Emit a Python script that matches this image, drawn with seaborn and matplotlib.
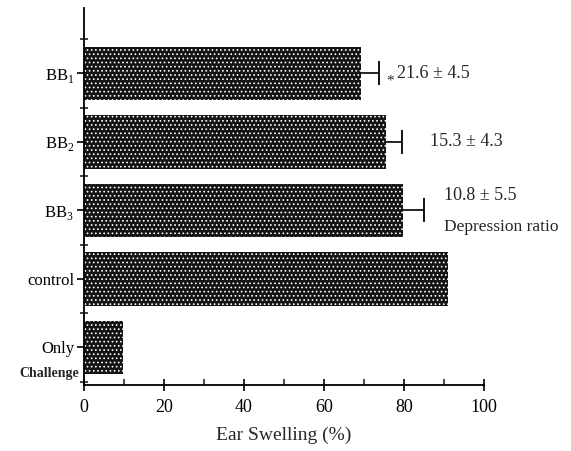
import matplotlib
matplotlib.use("Agg")
import matplotlib.pyplot as plt
import matplotlib.transforms as mtransforms
import seaborn as sns
import pandas as pd

categories = ["BB1", "BB2", "BB3", "control", "Only"]
tick_labels = ["BB$_\\mathregular{1}$", "BB$_\\mathregular{2}$", "BB$_\\mathregular{3}$", "control", "Only"]
swelling = [69.3, 75.5, 79.7, 91.0, 9.7]
err_plus = [4.3, 3.9, 5.3, 0.0, 0.0]
ratio_labels = ["21.6 ± 4.5", "15.3 ± 4.3", "10.8 ± 5.5"]

df = pd.DataFrame({"group": categories, "swelling": swelling})

sns.set_theme(style="ticks")
plt.rcParams["font.family"] = ["Liberation Serif", "DejaVu Serif"]
plt.rcParams["mathtext.fontset"] = "custom"
plt.rcParams["mathtext.rm"] = "Liberation Serif"
plt.rcParams["hatch.color"] = "white"
plt.rcParams["hatch.linewidth"] = 0.7

fig = plt.figure(figsize=(5.71, 4.51), dpi=100)
ax = fig.add_axes([0.147, 0.146, 0.701, 0.836])

sns.barplot(data=df, y="group", x="swelling", orient="h", order=categories,
            color="#111111", width=0.78, errorbar=None, ax=ax,
            edgecolor="white", linewidth=0)
for p in ax.patches:
    p.set_hatch("....")
    p.set_facecolor("#141414")
    p.set_edgecolor("white")
    p.set_linewidth(0)

ypos = list(range(len(categories)))
ends = [swelling[i] + err_plus[i] for i in range(3)]
ax.errorbar(swelling[:3], ypos[:3], xerr=[[0, 0, 0], err_plus[:3]], fmt="none",
            ecolor="black", elinewidth=1.2, capsize=0, zorder=1)
ax.plot(ends, ypos[:3], linestyle="none", marker="|", markersize=17,
        markeredgewidth=1.3, color="black")

ax.set_xlim(0, 100)
ax.set_ylim(4.55, -0.95)
ax.set_xticks([0, 20, 40, 60, 80, 100])
ax.set_xticks([10, 30, 50, 70, 90], minor=True)
ax.set_yticks(ypos)
ax.set_yticklabels(tick_labels)
ax.set_yticks([-0.5, 0.5, 1.5, 2.5, 3.5, 4.5], minor=True)
ax.tick_params(axis="both", labelsize=13, colors="black", width=1.2)
ax.tick_params(axis="x", which="major", direction="inout", length=8, pad=6)
ax.tick_params(axis="x", which="minor", direction="in", length=4, width=1.2)
ax.tick_params(axis="y", which="major", direction="out", length=5, pad=2, labelsize=12)
ax.tick_params(axis="y", which="minor", direction="inout", length=6, width=1.2)
ax.set_xlabel("Ear Swelling (%)", fontsize=14, labelpad=8)
ax.set_ylabel("")
for s in ["top", "right"]:
    ax.spines[s].set_visible(False)
for s in ["left", "bottom"]:
    ax.spines[s].set_linewidth(1.3)
    ax.spines[s].set_color("black")

trans = mtransforms.blended_transform_factory(ax.transAxes, ax.transData)
ax.text(-0.012, 4.38, "Challenge", transform=trans, ha="right", va="center",
        fontsize=10, fontweight="bold")

ax.text(75.5, 0.12, "*", ha="left", va="center", fontsize=11)
ax.text(78.2, 0.0, ratio_labels[0], ha="left", va="center", fontsize=13)
ax.text(86.5, 1.0, ratio_labels[1], ha="left", va="center", fontsize=13)
ax.text(90.0, 1.78, ratio_labels[2], ha="left", va="center", fontsize=13)
ax.text(90.0, 2.25, "Depression ratio", ha="left", va="center", fontsize=12.5)

fig.savefig("out.png", dpi=100)
